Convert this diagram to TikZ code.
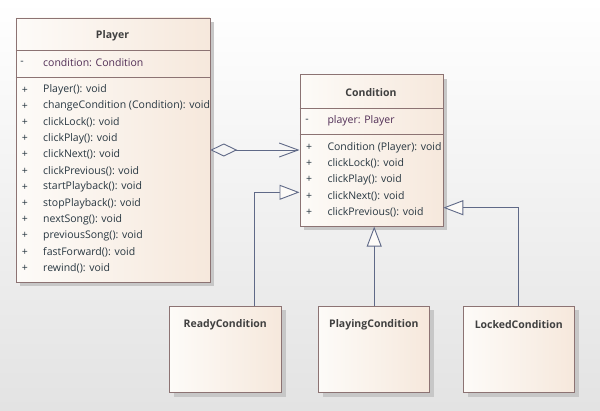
\documentclass[tikz,border=0pt]{standalone}
\usepackage{fontspec}
\setmainfont{Open Sans}
\usetikzlibrary{arrows.meta, positioning, shadows}
\definecolor{boxedge}{RGB}{140,115,115}
\definecolor{boxleft}{RGB}{253,251,248}
\definecolor{boxright}{RGB}{246,232,220}
\definecolor{linkblue}{RGB}{95,105,135}
\definecolor{attrpurple}{RGB}{80,45,85}
\definecolor{opgray}{RGB}{40,55,65}
\definecolor{titlegray}{RGB}{64,64,64}

\begin{document}
\begin{tikzpicture}[x=1pt, y=-1pt,
  classbox/.style={draw=boxedge, line width=0.8pt, left color=boxleft, right color=boxright,
    drop shadow={shadow xshift=4pt, shadow yshift=-4pt, fill=black!22, opacity=1},
    inner sep=0pt, anchor=north west},
  sepline/.style={draw=boxedge, line width=0.8pt},
  titletext/.style={font=\fontsize{10.5}{12}\selectfont\bfseries, text=titlegray, inner sep=0pt},
  attrtext/.style={font=\fontsize{10.5}{12}\selectfont, text=attrpurple, anchor=west, inner sep=0pt},
  optext/.style={font=\fontsize{10.5}{12}\selectfont, text=opgray, anchor=west, inner sep=0pt},
  vismark/.style={font=\fontsize{10.5}{12}\selectfont, text=opgray, inner sep=0pt},
  aggline/.style={draw=linkblue, line width=0.9pt,
    {Diamond[open, fill=white!96!black, length=27pt, width=13pt]}-{Straight Barb[length=19pt, width=14pt]}},
  inherit/.style={draw=linkblue, line width=0.9pt,
    -{Triangle[open, fill=boxleft, length=20pt, width=15pt]}}]

  \shade[top color=white, bottom color=black!11] (0,0) rectangle (600,410);
  \useasboundingbox (0,0) rectangle (600,410);

  % Player
  \node[classbox, minimum width=194pt, minimum height=264pt] (player) at (15.5,17.5) {};
  \draw[sepline] (player.west |- 0,50.7) -- (player.east |- 0,50.7);
  \draw[sepline] (player.west |- 0,77.3) -- (player.east |- 0,77.3);
  \node[titletext] (ptitle) at (112.5,35.7) {Player};
  \node[vismark] at (22,62.7) {-};
  \node[attrtext] (pattr) at (43,62.7) {condition: Condition};
  \foreach \op [count=\i] in {Player(): void, changeCondition (Condition): void, clickLock(): void,
      clickPlay(): void, clickNext(): void, clickPrevious(): void, startPlayback(): void,
      stopPlayback(): void, nextSong(): void, previousSong(): void, fastForward(): void, rewind(): void} {
    \node[vismark] at (25,73.8+16.2*\i) {+};
    \node[optext] (pop\i) at (43,73.8+16.2*\i) {\op};
  }

  % Condition
  \node[classbox, minimum width=143pt, minimum height=151.5pt] (cond) at (299.5,74.3) {};
  \draw[sepline] (cond.west |- 0,108.3) -- (cond.east |- 0,108.3);
  \draw[sepline] (cond.west |- 0,134) -- (cond.east |- 0,134);
  \node[titletext] (ctitle) at (371,93) {Condition};
  \node[vismark] at (307,121) {-};
  \node[attrtext] (cattr) at (327.3,121) {player: Player};
  \foreach \op [count=\i] in {Condition (Player): void, clickLock(): void, clickPlay(): void,
      clickNext(): void, clickPrevious(): void} {
    \node[vismark] at (309,131.1+16.2*\i) {+};
    \node[optext] (cop\i) at (327.3,131.1+16.2*\i) {\op};
  }

  % concrete conditions
  \node[classbox, minimum width=112pt, minimum height=86.5pt] (ready) at (169.3,305.7) {};
  \node[titletext] at (225.3,325) {ReadyCondition};
  \node[classbox, minimum width=111pt, minimum height=86.5pt] (playing) at (318.3,305.7) {};
  \node[titletext] at (373.8,325) {PlayingCondition};
  \node[classbox, minimum width=111pt, minimum height=86.5pt] (locked) at (463.3,305.7) {};
  \node[titletext] at (518.8,325) {LockedCondition};

  \coordinate (aggy) at (0,150);
  \coordinate (rturn) at (254.3,192.3);
  \coordinate (lturn) at (518.3,207.7);
  \draw[aggline] (player.east |- aggy) -- (cond.west |- aggy);
  \draw[inherit] (ready.north -| rturn) |- (cond.west |- rturn);
  \draw[inherit] (playing.north) -- (cond.south -| playing.north);
  \draw[inherit] (locked.north -| lturn) |- (cond.east |- lturn);
\end{tikzpicture}
\end{document}
